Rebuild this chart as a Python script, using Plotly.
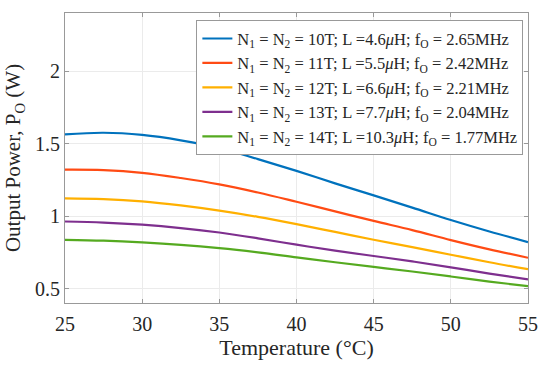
import plotly.graph_objects as go

temperature = [25, 27.5, 30, 32.5, 35, 37.5, 40, 42.5, 45, 47.5, 50, 52.5, 55]
p_10T = [1.563, 1.574, 1.559, 1.522, 1.470, 1.392, 1.311, 1.225, 1.142, 1.058, 0.972, 0.893, 0.820]
p_11T = [1.320, 1.317, 1.298, 1.262, 1.218, 1.162, 1.098, 1.032, 0.966, 0.903, 0.834, 0.770, 0.712]
p_12T = [1.122, 1.117, 1.101, 1.073, 1.037, 0.994, 0.944, 0.890, 0.836, 0.785, 0.733, 0.681, 0.633]
p_13T = [0.962, 0.955, 0.940, 0.917, 0.886, 0.846, 0.802, 0.761, 0.724, 0.687, 0.646, 0.603, 0.563]
p_14T = [0.836, 0.830, 0.818, 0.801, 0.778, 0.749, 0.715, 0.681, 0.649, 0.617, 0.583, 0.548, 0.516]

labels = [
    "N<sub>1</sub> = N<sub>2</sub> = 10T; L =4.6<i>μ</i>H; f<sub>O</sub> = 2.65MHz",
    "N<sub>1</sub> = N<sub>2</sub> = 11T; L =5.5<i>μ</i>H; f<sub>O</sub> = 2.42MHz",
    "N<sub>1</sub> = N<sub>2</sub> = 12T; L =6.6<i>μ</i>H; f<sub>O</sub> = 2.21MHz",
    "N<sub>1</sub> = N<sub>2</sub> = 13T; L =7.7<i>μ</i>H; f<sub>O</sub> = 2.04MHz",
    "N<sub>1</sub> = N<sub>2</sub> = 14T; L =10.3<i>μ</i>H; f<sub>O</sub> = 1.77MHz",
]
series = [p_10T, p_11T, p_12T, p_13T, p_14T]
colors = ["#0072BD", "#FF4B14", "#FFB000", "#7E2F8E", "#55AA20"]

FONT = "Liberation Serif"
TXT = "#262626"

fig = go.Figure()
for y, name, c in zip(series, labels, colors):
    fig.add_trace(go.Scatter(x=temperature, y=y, mode="lines", name=name,
                             line=dict(color=c, width=2.2, shape="spline", smoothing=1.0)))

axis_common = dict(showline=True, linecolor="#999999", linewidth=1, mirror="allticks",
                   ticks="inside", ticklen=4, tickcolor="#999999",
                   showgrid=True, gridcolor="#EBEBEB", gridwidth=1, zeroline=False,
                   tickfont=dict(family=FONT, size=20, color=TXT))

fig.update_xaxes(range=[25, 55], tickvals=[25, 30, 35, 40, 45, 50, 55],
                 ticklabelstandoff=3,
                 title=dict(text="Temperature (°C)", font=dict(family=FONT, size=22, color=TXT), standoff=4),
                 **axis_common)
fig.update_yaxes(range=[0.4, 2.4], tickvals=[0.5, 1, 1.5, 2],
                 title=dict(text="Output Power, P<sub>O</sub> (W)", font=dict(family=FONT, size=21, color=TXT), standoff=8),
                 **axis_common)

fig.update_layout(
    width=550, height=366,
    margin=dict(l=64, r=13, t=12, b=57),
    plot_bgcolor="white", paper_bgcolor="white",
    font=dict(family=FONT, color=TXT),
    legend=dict(x=0.99, y=0.975, xanchor="right", yanchor="top",
                bgcolor="white", bordercolor="#999999", borderwidth=1,
                font=dict(family=FONT, size=16.5, color=TXT),
                itemwidth=30, tracegroupgap=0),
)

fig.write_html("out.html", config={"displayModeBar": False},
               post_script="document.body.style.margin='0';document.body.style.padding='0';")
